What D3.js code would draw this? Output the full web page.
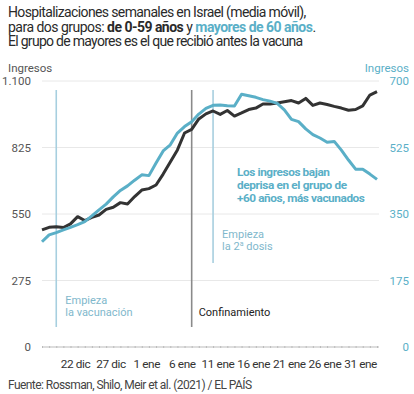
<!DOCTYPE html>
<html><head><meta charset="utf-8">
<script src="https://cdn.jsdelivr.net/npm/d3@7/dist/d3.min.js"></script>
<style>
body{margin:0;background:#fff;}
svg{display:block;font-family:"Roboto",sans-serif;}
</style></head><body>
<svg id="c" width="414" height="394"></svg>
<script>
const startDate = "2020-12-18";
const young = [484,495,497,494,509,539,523,536,546,569,578,597,591,622,649,655,670,715,765,815,885,900,943,964,976,962,978,955,968,982,988,1005,1005,1009,1014,1019,1009,1028,999,1009,1003,995,988,979,982,997,1042,1056];
const old = [277,295,301,308,315,322,330,345,361,376,395,412,424,439,453,451,484,516,532,563,580,593,613,628,636,637,635,634,665,661,657,651,647,641,624,599,593,574,559,550,539,541,518,492,468,468,455,441];
const leftTicks = [0,275,550,825,1100];
const rightTicks = [0,175,350,525,700];
const xTickDates = ["2020-12-22","2020-12-27","2021-01-01","2021-01-06","2021-01-11","2021-01-16","2021-01-21","2021-01-26","2021-01-31"];
const events = [
  {date:"2020-12-20", kind:"vac", lines:["Empieza","la vacunación"]},
  {date:"2021-01-08", kind:"conf", lines:["Confinamiento"]},
  {date:"2021-01-11", kind:"dose", lines:["Empieza","la 2ª dosis"]}
];
const meses = ["ene","feb","mar","abr","may","jun","jul","ago","sep","oct","nov","dic"];

const parse = d3.utcParse("%Y-%m-%d");
const t0 = parse(startDate);
const dates = young.map((_,i)=>d3.utcDay.offset(t0,i));

const svg = d3.select("#c");
const L=42, R=379, T=81, B=347;
const x = d3.scaleUtc().domain([t0, d3.utcDay.offset(t0,47)]).range([L,377]);
const yL = d3.scaleLinear().domain([0,1100]).range([B,T]);
const yR = d3.scaleLinear().domain([0,700]).range([B,T]);

const BLUE="#5aafc7", DARK="#333333", LBLUE="#a7cfdf";

// compress a text horizontally by letter-spacing so it spans width w
function squeeze(sel, w){
  const n = sel.node();
  const cur = n.getComputedTextLength();
  const chars = (n.textContent || "").length;
  if (cur > w && chars > 1) sel.attr("letter-spacing", ((w-cur)/(chars-1)).toFixed(2));
}

// title
const title = svg.append("g").attr("fill","#2a2a2a");
const t1 = title.append("text").attr("x",8).attr("y",17).attr("font-size",14).text("Hospitalizaciones semanales en Israel (media móvil),");
const t2 = title.append("text").attr("x",8).attr("y",31.6).attr("font-size",14);
t2.append("tspan").text("para dos grupos: ");
t2.append("tspan").attr("font-weight","bold").text("de 0-59 años");
t2.append("tspan").text(" y ");
t2.append("tspan").attr("font-weight","bold").attr("fill",BLUE).text("mayores de 60 años");
t2.append("tspan").text(".");
const t3 = title.append("text").attr("x",8).attr("y",46.2).attr("font-size",14).text("El grupo de mayores es el que recibió antes la vacuna");
squeeze(t1, 298); squeeze(t2, 308); squeeze(t3, 295);

// axis titles
svg.append("text").attr("x",8).attr("y",72).attr("font-size",11.5).attr("fill","#555").text("Ingresos");
svg.append("text").attr("x",409).attr("y",72).attr("font-size",11.5).attr("fill",BLUE).attr("text-anchor","end").text("Ingresos");

// grid
svg.append("g").selectAll("line").data(leftTicks.filter(d=>d>0)).join("line")
  .attr("x1",L).attr("x2",R).attr("y1",d=>yL(d)).attr("y2",d=>yL(d))
  .attr("stroke","#e8e8e8").attr("stroke-width",1);

// left axis
const fmtL = d => d3.format(",")(d).replace(/,/g,".");
const gl = svg.append("g").attr("transform",`translate(31,0)`)
  .call(d3.axisLeft(yL).tickValues(leftTicks).tickFormat(fmtL).tickSize(0).tickPadding(0));
gl.select(".domain").remove();
gl.selectAll("text").attr("font-size",11.5).attr("fill","#555").attr("font-family","Roboto");

const gr = svg.append("g").attr("transform",`translate(409,0)`)
  .call(d3.axisLeft(yR).tickValues(rightTicks).tickSize(0).tickPadding(0));
gr.select(".domain").remove();
gr.selectAll("text").attr("font-size",11.5).attr("fill",BLUE).attr("font-family","Roboto");

// x axis daily ticks
const gx = svg.append("g").attr("transform",`translate(0,${B})`)
  .call(d3.axisBottom(x).ticks(d3.utcDay.every(1)).tickSize(2).tickFormat(""));
gx.select(".domain").attr("stroke","#bbb").attr("d",`M${L},0H${R}`);
gx.selectAll(".tick line").attr("stroke","#bbb").attr("y1",-1).attr("y2",1);

const gx2 = svg.append("g").attr("transform",`translate(0,${B})`)
  .call(d3.axisBottom(x).tickValues(xTickDates.map(s=>d3.utcHour.offset(parse(s),15)))
    .tickSize(0).tickPadding(13)
    .tickFormat(d=>d.getUTCDate()+" "+meses[d.getUTCMonth()]));
gx2.select(".domain").remove();
gx2.selectAll("text").attr("font-size",11.8).attr("fill","#333").attr("font-family","Roboto").attr("letter-spacing","-0.4");

// event lines
events.forEach(e=>{
  const xx = x(parse(e.date));
  const col = e.kind==="conf" ? "#8a8a8a" : LBLUE;
  const y2 = e.kind==="dose" ? 263 : 327;
  svg.append("line").attr("x1",xx).attr("x2",xx).attr("y1",90).attr("y2",y2)
    .attr("stroke",col).attr("stroke-width",1.6);
  const tc = e.kind==="conf" ? "#222" : "#7fb8cc";
  const by = e.kind==="dose" ? 238 : (e.kind==="conf" ? 316 : 304);
  const tx = svg.append("text").attr("font-size",11).attr("fill",tc);
  e.lines.forEach((ln,i)=>{
    const ts = tx.append("tspan").attr("x",xx+(e.kind==="conf"?7:9)).attr("y",by+i*11.8);
    if(ln.includes("ª")){
      const parts = ln.split("ª");
      ts.append("tspan").text(parts[0]);
      ts.append("tspan").attr("font-size",7).attr("dy",-4).text("a");
      ts.append("tspan").attr("dy",4).text(parts[1]);
    } else ts.text(ln);
  });
});

// lines
const lineY = d3.line().x((d,i)=>x(dates[i])).y(d=>yL(d));
const lineO = d3.line().x((d,i)=>x(dates[i])).y(d=>yR(d));
svg.append("path").datum(young).attr("d",lineY).attr("fill","none").attr("stroke",DARK).attr("stroke-width",3).attr("stroke-linejoin","round");
svg.append("path").datum(old).attr("d",lineO).attr("fill","none").attr("stroke",BLUE).attr("stroke-width",3).attr("stroke-linejoin","round");

// annotation
const annLines = ["Los ingresos bajan","deprisa en el grupo de","+60 años, más vacunados"];
const annW = [93,110,128];
annLines.forEach((s,i)=>{
  const t = svg.append("text").attr("x",237).attr("y",176+i*13.2).attr("font-size",11.8)
    .attr("font-weight","bold").attr("fill",BLUE).text(s);
  squeeze(t, annW[i]);
});

// source
const src = svg.append("text").attr("x",8).attr("y",389).attr("font-size",12).attr("fill","#444").text("Fuente: Rossman, Shilo, Meir et al. (2021) / EL PAÍS");
squeeze(src, 244);
</script>
</body></html>
